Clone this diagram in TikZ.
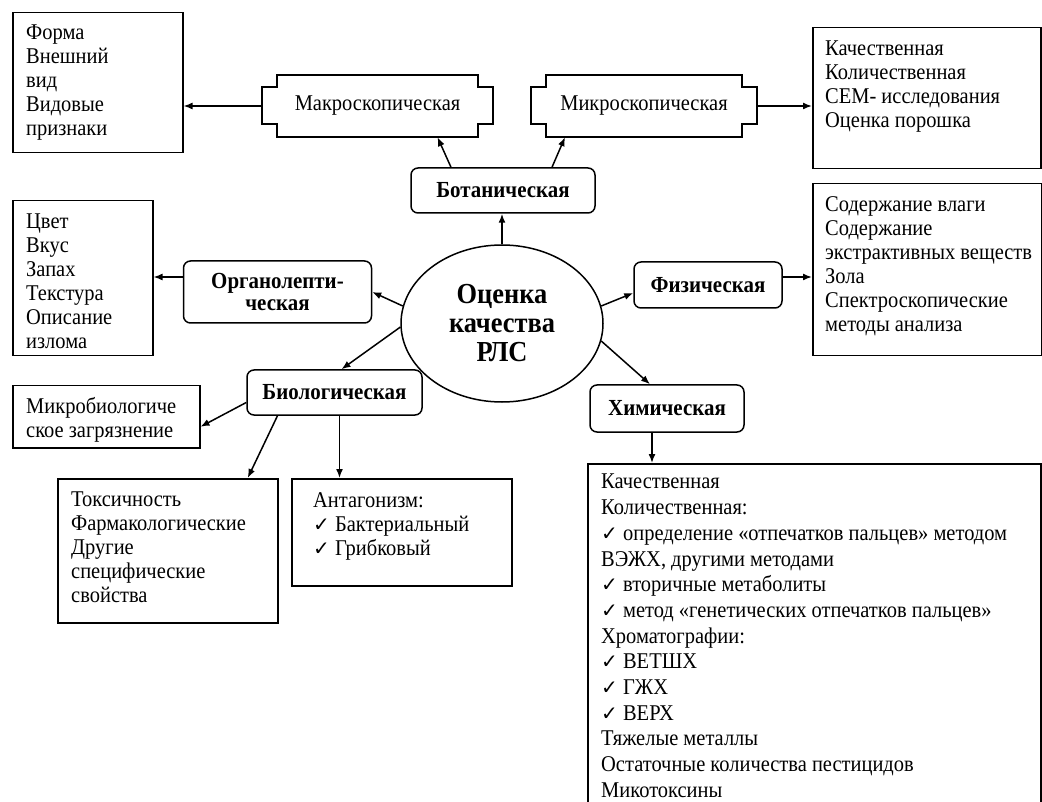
\documentclass[tikz,border=0pt]{standalone}
\usepackage{fontspec}
\setmainfont{Liberation Serif}[FakeStretch=0.91]
\newfontfamily\symfont{DejaVu Sans}
\usetikzlibrary{calc,positioning,shapes.geometric,arrows.meta}

\newcommand{\chk}{{\symfont\fontsize{20}{20}\selectfont ✓}}
\newcommand{\tabframe}[1]{\draw[line width=1.5pt] (#1.north west) -- (#1.north east) -- ++(0,12) -- ++(15,0) -- ++(0,37) -- ++(-15,0) -- (#1.south east) -- (#1.south west) -- ++(0,-13) -- ++(-15,0) -- ++(0,-37) -- ++(15,0) -- cycle;}

\tikzset{
	box/.style={draw,line width=1.5pt,inner sep=0pt,anchor=north west},
	rbox/.style={draw,line width=1.5pt,rounded corners=7pt,inner sep=0pt,align=center,font=\fontsize{23}{22}\selectfont\bfseries},
	list/.style={inner sep=0pt,align=left,font=\fontsize{22.5}{24}\selectfont},
	tabname/.style={inner sep=0pt,font=\fontsize{22.5}{24}\selectfont},
	arr/.style={-{Latex[length=9pt,width=7pt]},line width=1.5pt}
}

\begin{document}
\begin{tikzpicture}[x=1pt,y=-1pt]
				\path[use as bounding box,clip] (0,0) rectangle (1042,802);
				
				\node[draw,ellipse,line width=1.5pt,inner sep=0pt,minimum width=202pt,minimum height=157pt,align=center,font=\fontsize{29}{29}\selectfont\bfseries] (ell) at (502,323.5) {Оценка\\качества\\РЛС};
				
				\node[rbox,minimum width=184pt,minimum height=45pt] (bot) at (503,190.5) {Ботаническая};
				\node[rbox,minimum width=188pt,minimum height=62pt] (org) at (277.5,292) {Органолепти-\\ческая};
				\node[rbox,minimum width=175pt,minimum height=45pt] (bio) at (334.5,392.5) {Биологическая};
				\node[rbox,minimum width=148pt,minimum height=46pt] (fiz) at (708,285) {Физическая};
				\node[rbox,minimum width=154pt,minimum height=47pt] (him) at (667,408.5) {Химическая};
				
				\node[tabname,minimum width=201pt,minimum height=62pt] (macro) at (377.5,106) {Макроскопическая};
				\node[tabname,minimum width=196pt,minimum height=62pt] (micro) at (644,106) {Микроскопическая};
				\tabframe{macro}
				\tabframe{micro}
				
				\node[box,minimum width=170pt,minimum height=140pt] (tl) at (12,12) {};
				\node[list,below right=13pt and 14pt of tl.north west] (tltext) {Форма\\Внешний\\вид\\Видовые\\признаки};
				\node[box,minimum width=140pt,minimum height=155pt] (cvet) at (12,200) {};
				\node[list,below right=14pt and 14pt of cvet.north west] (cvettext) {Цвет\\Вкус\\Запах\\Текстура\\Описание\\излома};
				\node[box,minimum width=187pt,minimum height=62pt] (mb) at (12,385) {};
				\node[list,below right=12pt and 14pt of mb.north west] (mbtext) {Микробиологиче\\ское загрязнение};
				\node[box,minimum width=220pt,minimum height=144pt] (tox) at (57,478) {};
				\node[list,below right=14pt and 14pt of tox.north west] (toxtext) {Токсичность\\Фармакологические\\Другие\\специфические\\свойства};
				\node[box,minimum width=220pt,minimum height=107pt] (ant) at (291,478) {};
				\node[list,below right=14pt and 22pt of ant.north west] (anttext) {Антагонизм:\\\chk{} Бактериальный\\\chk{} Грибковый};
				\node[box,minimum width=228pt,minimum height=141pt] (rb1) at (812,27) {};
				\node[list,below right=14pt and 13pt of rb1.north west] (rb1text) {Качественная\\Количественная\\СЕМ- исследования\\Оценка порошка};
				\node[box,minimum width=229pt,minimum height=172pt] (rb2) at (812,183) {};
				\node[list,below right=13pt and 13pt of rb2.north west] (rb2text) {Содержание влаги\\Содержание\\экстрактивных веществ\\Зола\\Спектроскопические\\методы анализа};
				\node[box,minimum width=453pt,minimum height=400pt] (big) at (587,463) {};
				\node[list,font=\fontsize{22.5}{25.7}\selectfont,below right=11pt and 14pt of big.north west] (bigtext) {Качественная\\Количественная:\\\chk{} определение «отпечатков пальцев» методом\\ВЭЖХ, другими методами\\\chk{} вторичные метаболиты\\\chk{} метод «генетических отпечатков пальцев»\\Хроматографии:\\\chk{} ВЕТШХ\\\chk{} ГЖХ\\\chk{} ВЕРХ\\Тяжелые металлы\\Остаточные количества пестицидов\\Микотоксины};
				
				\draw[arr] ($(macro.west)+(-15,0)$) -- (macro.west -| tl.east);
				\draw[arr] ($(micro.east)+(15,0)$) -- (micro.east -| rb1.west);
				\draw[arr] ($(bot.north)+(-52,0)$) -- ($(macro.south)+(60,0)$);
				\draw[arr] ($(bot.north)+(49,0)$) -- ($(micro.south)+(-79,0)$);
				\draw[arr] (ell.north) -- (ell.north |- bot.south);
				\draw[arr] (ell.170) -- (org.east);
				\draw[arr] ($(org.west)+(0,-15)$) -- ($(org.west -| cvet.east)+(0,-15)$);
				\draw[arr] (ell.182) -- ($(bio.north)+(7,0)$);
				\draw[arr] ($(bio.west)+(0,10)$) -- ($(mb.east)+(0,10)$);
				\draw[arr] ($(bio.south)+(-57,0)$) -- ($(tox.north)+(80,0)$);
				\coordinate (b3) at ($(bio.south)+(5,0)$);
				\draw[arr] (b3) -- (b3 |- ant.north);
				\draw[arr] (ell.10) -- ($(fiz.west)+(0,8)$);
				\draw[arr] ($(fiz.east)+(0,-8)$) -- ($(fiz.east -| rb2.west)+(0,-8)$);
				\draw[arr] (ell.-10) -- ($(him.north)+(-17,0)$);
				\coordinate (h1) at ($(him.south)+(-15,0)$);
				\draw[arr] (h1) -- (h1 |- big.north);
\end{tikzpicture}
\end{document}
